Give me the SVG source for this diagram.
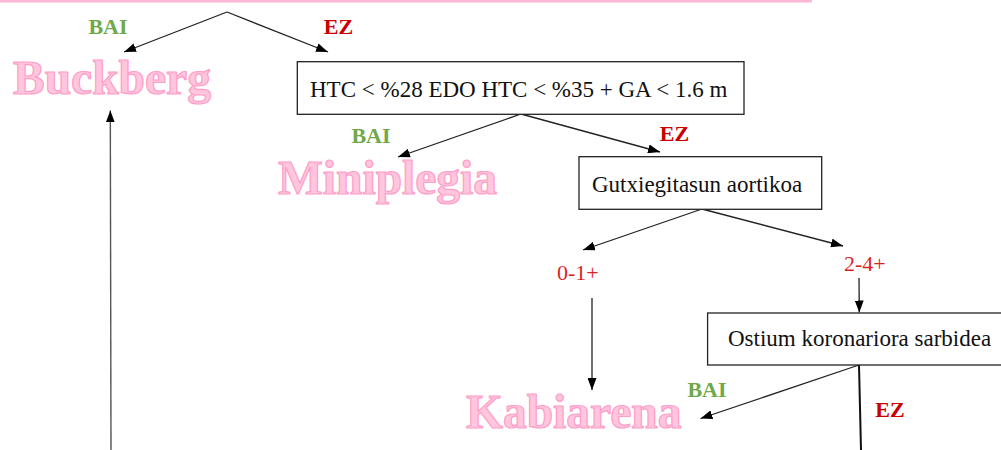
<svg xmlns="http://www.w3.org/2000/svg" width="1001" height="450" viewBox="0 0 1001 450">
  <style>
    .box { fill: #ffffff; stroke: #222222; stroke-width: 1.3; }
    .lbl { font-family: "Liberation Serif", "Times New Roman", serif; font-size: 23px; fill: #111111; }
    .big { font-family: "Liberation Serif", "Times New Roman", serif; font-size: 47.5px; font-weight: bold; fill: #ffc6de; stroke: #ff9dc8; stroke-width: 1.2; }
    .yes { font-family: "Liberation Serif", "Times New Roman", serif; font-size: 22px; font-weight: bold; fill: #70a84a; text-anchor: middle; }
    .no { font-family: "Liberation Serif", "Times New Roman", serif; font-size: 22px; font-weight: bold; fill: #c80000; text-anchor: middle; }
    .grade { font-family: "Liberation Serif", "Times New Roman", serif; font-size: 22px; fill: #dd1f1f; }
    .edge { stroke: #222222; stroke-width: 1.3; fill: none; }
  </style>
  <defs>
    <marker id="arrow" viewBox="0 0 12 9" refX="12" refY="4.5" markerWidth="12" markerHeight="9" markerUnits="userSpaceOnUse" orient="auto">
      <path d="M0,0 L12,4.5 L0,9 z" fill="#000000"/>
    </marker>
  </defs>

  <rect width="1001" height="450" fill="#ffffff"/>

  <!-- top rule -->
  <line x1="0" y1="1.3" x2="812" y2="1.3" stroke="#ffb6d6" stroke-width="2.6"/>

  <!-- connectors -->
  <g id="connectors">
    <line class="edge" x1="227" y1="12" x2="124" y2="52" marker-end="url(#arrow)"/>
    <line class="edge" x1="227" y1="12" x2="328" y2="52" marker-end="url(#arrow)"/>
    <line class="edge" x1="521" y1="114" x2="398" y2="157" marker-end="url(#arrow)"/>
    <line class="edge" x1="521" y1="114" x2="660" y2="152" marker-end="url(#arrow)"/>
    <line class="edge" x1="702" y1="209" x2="583" y2="250" marker-end="url(#arrow)"/>
    <line class="edge" x1="702" y1="209" x2="843" y2="246" marker-end="url(#arrow)"/>
    <line class="edge" x1="592" y1="298" x2="592" y2="390" marker-end="url(#arrow)"/>
    <line class="edge" x1="859" y1="278" x2="859.3" y2="312.5" marker-end="url(#arrow)"/>
    <line class="edge" x1="859" y1="365" x2="700.5" y2="418.5" marker-end="url(#arrow)"/>
    <line x1="859" y1="365" x2="861" y2="450" stroke="#111111" stroke-width="2"/>
    <line x1="111" y1="450" x2="110.3" y2="110.5" stroke="#555555" stroke-width="1.4" marker-end="url(#arrow)"/>
  </g>

  <!-- branch labels -->
  <g id="branch-labels">
    <text class="yes" x="108" y="34">BAI</text>
    <text class="no" x="338.5" y="34">EZ</text>
    <text class="yes" x="371" y="143">BAI</text>
    <text class="no" x="674.5" y="141">EZ</text>
    <text class="yes" x="707" y="397">BAI</text>
    <text class="no" x="890" y="416.5">EZ</text>
  </g>

  <g id="grade-low">
    <text class="grade" x="557" y="280">0-1+</text>
  </g>
  <g id="grade-high">
    <text class="grade" x="844" y="270.5">2-4+</text>
  </g>

  <!-- outcome nodes -->
  <g id="buckberg">
    <text class="big" x="13" y="93.5">Buckberg</text>
  </g>
  <g id="miniplegia">
    <text class="big" x="278" y="194">Miniplegia</text>
  </g>
  <g id="kabiarena">
    <text class="big" x="466" y="428">Kabiarena</text>
  </g>

  <!-- decision nodes -->
  <g id="htc-test">
    <rect class="box" x="297.3" y="61.7" width="446.7" height="52.6"/>
    <text class="lbl" x="310" y="96.7">HTC &lt; %28 EDO HTC &lt; %35 + GA &lt; 1.6 m</text>
  </g>
  <g id="aortic-insufficiency">
    <rect class="box" x="579" y="156.7" width="242.7" height="52.6"/>
    <text class="lbl" x="592" y="191.7">Gutxiegitasun aortikoa</text>
  </g>
  <g id="coronary-ostium">
    <rect class="box" x="707.6" y="313" width="310" height="52"/>
    <text class="lbl" x="728" y="346">Ostium koronariora sarbidea</text>
  </g>
</svg>
